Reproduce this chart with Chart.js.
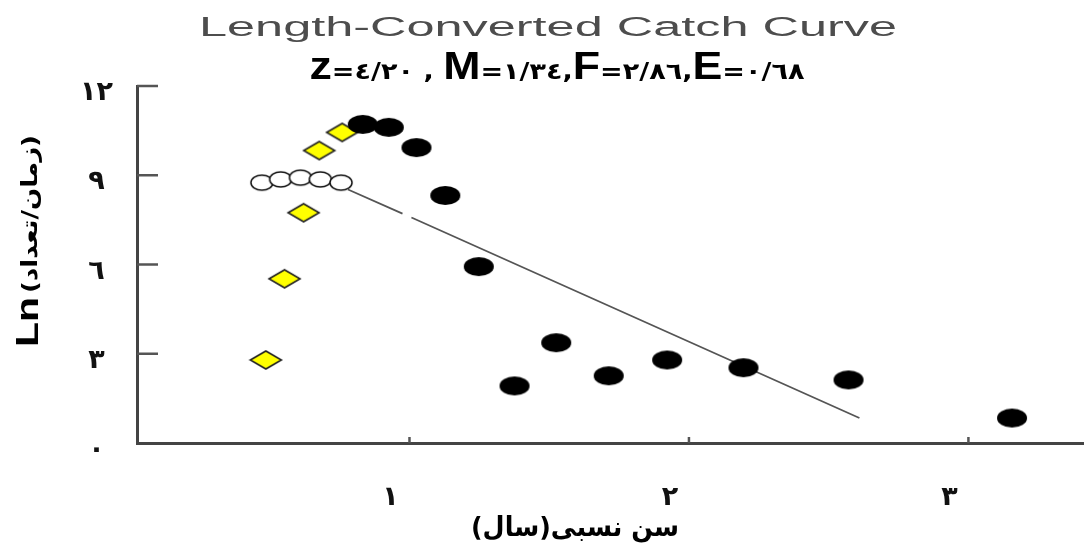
<!DOCTYPE html>
<html>
<head>
<meta charset="utf-8">
<script src="https://cdn.jsdelivr.net/npm/chart.js@4.4.1/dist/chart.umd.min.js"></script>
<style>
html, body { margin: 0; padding: 0; background: #fff; }
#wrap { width: 1092px; height: 547px; position: relative; }
</style>
</head>
<body>
<div id="wrap"><canvas id="graph1"></canvas></div>
<script>
// relative age (years) and Ln(N/dt)
let yellowAge = [0.486, 0.553, 0.621, 0.677, 0.759];
let yellowLn  = [2.79, 5.52, 7.74, 9.83, 10.44];

let openAge = [0.472, 0.539, 0.610, 0.681, 0.755];
let openLn  = [8.75, 8.86, 8.92, 8.86, 8.75];

let blackAge = [0.833, 0.926, 1.025, 1.128, 1.248, 1.376, 1.525, 1.713, 1.922, 2.195, 2.571, 3.156];
let blackLn  = [10.71, 10.61, 9.93, 8.32, 5.93, 1.92, 3.37, 2.26, 2.79, 2.53, 2.12, 0.84];

// regression line (with the small break in it)
let lineAge = [0.78, 0.975, 0.99, 1.007, 2.61];
let lineLn  = [8.52, 7.71, null, 7.58, 0.84];

let xTicks = [1, 2, 3];
let xTickLabels = ['١', '٢', '٣'];
let yTicks = [0, 3, 6, 9, 12];
let yTickLabels = ['٠', '٣', '٦', '٩', '١٢'];

let titleText = 'Length-Converted Catch Curve';
let subParts = [['z', 1], ['=٤/٢٠ , ', 0], ['M', 1], ['=١/٣٤,', 0], ['F', 1], ['=٢/٨٦,', 0], ['E', 1], ['=٠/٦٨', 0]];
let xTitle = '\u200Fسن نسبی(سال)\u200F';
let yTitleA = 'Ln';
let yTitleB = '(زمان/تعداد)';

function pairs(xs, ys) {
    let out = [];
    for (let i = 0; i < xs.length; i++) {
        out.push({x: xs[i], y: ys[i]});
    }
    return out;
}

function makeMarker(w, h, kind) {
    let c = document.createElement('canvas');
    c.width = w + 4;
    c.height = h + 4;
    let g = c.getContext('2d');
    let cx = c.width / 2, cy = c.height / 2;
    g.beginPath();
    if (kind == 'diamond') {
        g.moveTo(cx - w / 2, cy);
        g.lineTo(cx, cy - h / 2);
        g.lineTo(cx + w / 2, cy);
        g.lineTo(cx, cy + h / 2);
        g.closePath();
        g.fillStyle = '#ffff00';
        g.fill();
        g.strokeStyle = '#222';
        g.lineWidth = 1.6;
        g.stroke();
    } else if (kind == 'open') {
        g.ellipse(cx, cy, w / 2, h / 2, 0, 0, Math.PI * 2);
        g.fillStyle = '#fff';
        g.fill();
        g.strokeStyle = '#111';
        g.lineWidth = 1.5;
        g.stroke();
    } else {
        g.ellipse(cx, cy, w / 2, h / 2, 0, 0, Math.PI * 2);
        g.fillStyle = '#000';
        g.fill();
    }
    return c;
}

let blackMarker = makeMarker(30, 19, 'black');
let yellowMarker = makeMarker(31, 18, 'diamond');
let openMarker = makeMarker(22, 15, 'open');

function drawFit(ctx, text, font, x, y, width, align) {
    ctx.save();
    ctx.font = font;
    let w = ctx.measureText(text).width;
    let s = width / w;
    ctx.translate(x, y);
    ctx.scale(s, 1);
    ctx.textAlign = align || 'center';
    ctx.fillText(text, 0, 0);
    ctx.restore();
}

const extras = {
    id: 'extras',
    afterDraw(chart) {
        const c = chart.ctx;
        const xs = chart.scales.x, ys = chart.scales.y;
        const area = chart.chartArea;

        // inward tick marks
        c.save();
        c.strokeStyle = '#555';
        c.lineWidth = 2.5;
        yTicks.forEach(v => {
            let p = ys.getPixelForValue(v);
            if (v == 0) return;
            c.beginPath();
            c.moveTo(area.left, p);
            c.lineTo(area.left + 21, p);
            c.stroke();
        });
        xTicks.forEach(v => {
            let p = xs.getPixelForValue(v);
            c.beginPath();
            c.moveTo(p, area.bottom);
            c.lineTo(p, area.bottom - 6);
            c.stroke();
        });
        c.restore();

        c.save();
        c.textBaseline = 'alphabetic';

        // main title
        c.fillStyle = '#4d4d4d';
        drawFit(c, titleText, '27px "Liberation Sans", Arial, sans-serif', 548, 36, 698);

        // subtitle with mixed sizes
        c.fillStyle = '#000';
        let bigFont = 'bold 38px "Liberation Sans", Arial, sans-serif';
        let smallFont = 'bold 23px "DejaVu Sans", sans-serif';
        let total = 0;
        let widths = [];
        subParts.forEach(p => {
            c.font = p[1] ? bigFont : smallFont;
            let w = c.measureText(p[0]).width;
            widths.push(w);
            total += w;
        });
        let target = 495;
        let s = target / total;
        let px = 557 - target / 2;
        subParts.forEach((p, i) => {
            c.save();
            c.font = p[1] ? bigFont : smallFont;
            c.translate(px, 79);
            c.scale(s, 1);
            c.textAlign = 'left';
            c.fillText(p[0], 0, 0);
            c.restore();
            px += widths[i] * s;
        });

        // x axis title
        c.fillStyle = '#000';
        drawFit(c, xTitle, 'bold 27px "DejaVu Sans", sans-serif', 575, 536, 208);

        // y axis title, rotated
        c.save();
        c.translate(38, 347);
        c.rotate(-Math.PI / 2);
        drawFit(c, yTitleA, 'bold 32px "Liberation Sans", Arial, sans-serif', 0, 0, 50, 'left');
        drawFit(c, yTitleB, 'bold 22px "DejaVu Sans", sans-serif', 54, -1, 158, 'left');
        c.restore();

        c.restore();
    }
};

const ctx = document.getElementById('graph1').getContext('2d');

var myChart = new Chart(ctx, {
    type: 'scatter',
    data: {
        datasets: [
            {
                label: 'line',
                data: pairs(lineAge, lineLn),
                showLine: true,
                spanGaps: false,
                borderColor: '#555',
                borderWidth: 1.8,
                pointRadius: 0,
                order: 4
            },
            {
                label: 'open',
                data: pairs(openAge, openLn),
                pointStyle: openMarker,
                pointRadius: 8,
                order: 3
            },
            {
                label: 'yellow',
                data: pairs(yellowAge, yellowLn),
                pointStyle: yellowMarker,
                pointRadius: 8,
                order: 2
            },
            {
                label: 'black',
                data: pairs(blackAge, blackLn),
                pointStyle: blackMarker,
                pointRadius: 8,
                order: 1
            }
        ]
    },
    options: {
        responsive: true,
        maintainAspectRatio: false,
        animation: false,
        layout: { padding: { top: 86, left: 0, right: 0, bottom: 0 } },
        plugins: {
            legend: { display: false },
            tooltip: { enabled: false },
            title: { display: false }
        },
        scales: {
            x: {
                type: 'linear',
                min: 0.025,
                max: 3.41,
                afterBuildTicks: scale => { scale.ticks = xTicks.map(v => ({value: v})); },
                afterFit: scale => { scale.height = 104; },
                grid: { display: false, drawTicks: false, tickLength: 0 },
                border: { display: true, color: '#444', width: 3 },
                ticks: {
                    padding: 39,
                    labelOffset: -19,
                    maxRotation: 0,
                    color: '#111',
                    font: { family: '"DejaVu Sans", sans-serif', size: 27, weight: 'bold' },
                    callback: v => xTickLabels[xTicks.indexOf(v)]
                }
            },
            y: {
                type: 'linear',
                min: 0,
                max: 12,
                afterBuildTicks: scale => { scale.ticks = yTicks.map(v => ({value: v})); },
                afterFit: scale => { scale.width = 137; },
                grid: { display: false, drawTicks: false, tickLength: 0 },
                border: { display: true, color: '#444', width: 3 },
                ticks: {
                    padding: 24,
                    labelOffset: 7,
                    crossAlign: 'center',
                    color: '#111',
                    font: { family: '"DejaVu Sans", sans-serif', size: 27, weight: 'bold' },
                    callback: v => yTickLabels[yTicks.indexOf(v)]
                }
            }
        }
    },
    plugins: [extras]
});
</script>
</body>
</html>
